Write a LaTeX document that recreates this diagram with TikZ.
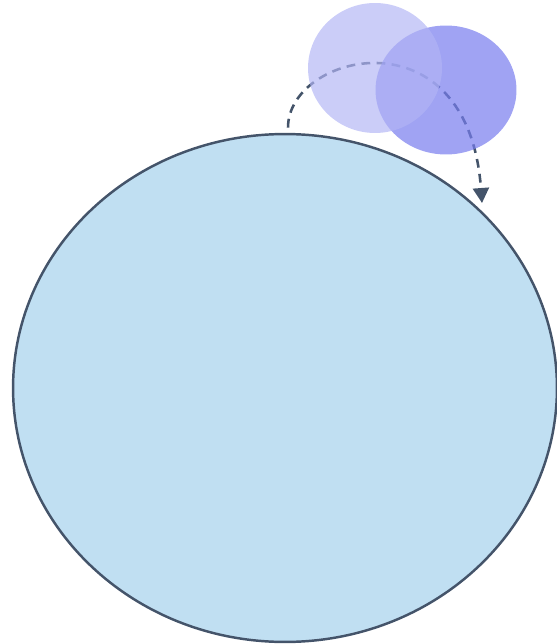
\documentclass[tikz,border=0pt]{standalone}
\usepackage{tikz}
\usetikzlibrary{arrows.meta,shapes.geometric}
\definecolor{slate}{HTML}{44546A}
\definecolor{skyfill}{HTML}{C0DFF2}
\definecolor{lavlight}{HTML}{B2B5F5}
\definecolor{lavdark}{HTML}{777CEE}

\begin{document}
\begin{tikzpicture}[>={Triangle[length=0.3cm,width=0.32cm]}, x=0.02cm, y=-0.02cm,
		blob/.style={ellipse, inner sep=0pt, draw=none},
		hop/.style={->, draw=slate, line width=1.45pt, dash pattern=on 5pt off 3.6pt, shorten <=3pt}]
		\useasboundingbox (0,0) rectangle (556,644);
		% large cell
		\node[blob, draw=slate, line width=1.4pt, fill=skyfill, minimum width=10.88cm, minimum height=10.16cm] (cell) at (285,388) {};
		% landing point of the hop
		\coordinate (land) at (482,203);
		\draw[hop] ([xshift=0.06cm]cell.north) .. controls +(0,-80) and +(-14,-193) .. (land);
		% two bubbles (drawn over the hop)
		\node[blob, fill=lavdark, fill opacity=0.7, minimum width=2.82cm, minimum height=2.58cm] (bubB) at (446,90) {};
		\node[blob, fill=lavlight, fill opacity=0.68, minimum width=2.68cm, minimum height=2.6cm] (bubA) at (375,68) {};
	\end{tikzpicture}
\end{document}
